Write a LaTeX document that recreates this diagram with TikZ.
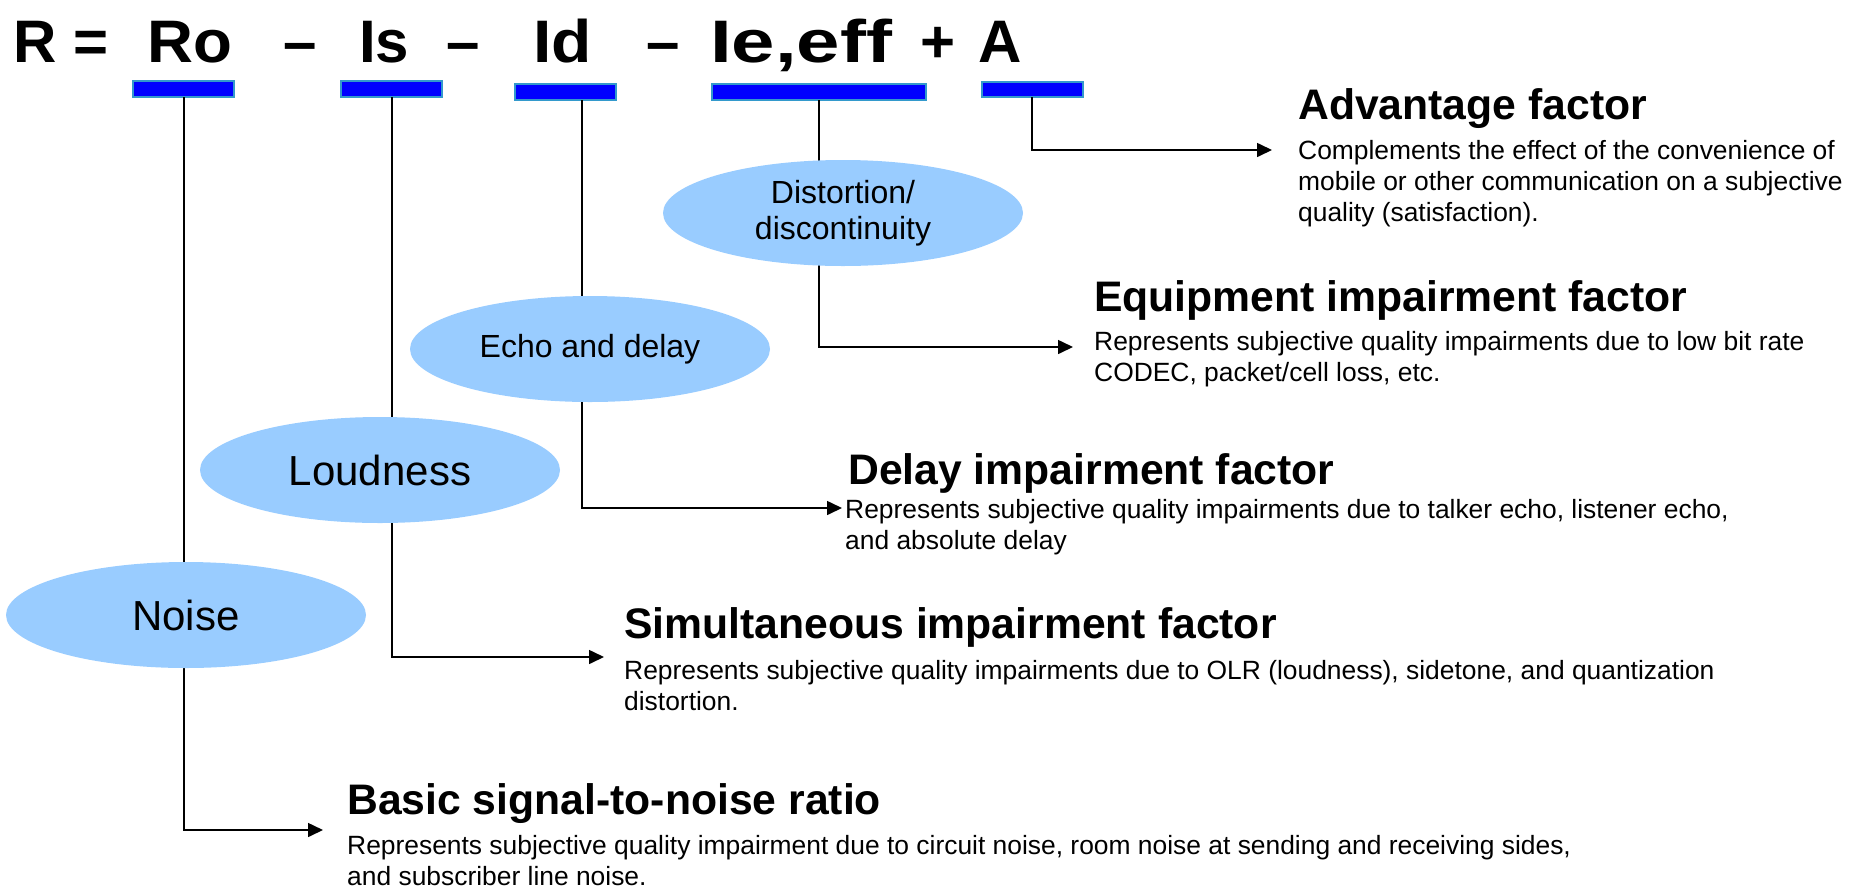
\documentclass[tikz,border=0pt]{standalone}
\usepackage{fontspec}
\usepackage{graphicx}
\setmainfont{Liberation Sans}
\usetikzlibrary{shapes.geometric,arrows.meta}
\definecolor{barblue}{RGB}{0,0,255}
\definecolor{baredge}{RGB}{51,153,204}
\definecolor{ellfill}{RGB}{153,204,255}
\begin{document}
\begin{tikzpicture}[x=1pt,y=-1pt,
  titletext/.style={inner sep=0pt,font=\fontsize{60}{70}\selectfont\bfseries},
  bar/.style={draw=baredge,line width=1.5pt,fill=barblue},
  blob/.style={ellipse,fill=ellfill,inner sep=0pt,minimum width=360pt,minimum height=106pt},
  bigtext/.style={font=\fontsize{42}{48}\selectfont},
  midtext/.style={font=\fontsize{32}{36}\selectfont,align=center},
  heading/.style={inner sep=0pt,anchor=base west,font=\fontsize{42.7}{48}\selectfont\bfseries},
  body/.style={inner sep=0pt,anchor=base west,font=\fontsize{26.4}{31}\selectfont},
  conn/.style={line width=1.6pt,-{Triangle[length=15pt,width=14pt]}}
]
\useasboundingbox (0,0) rectangle (1864,887);
% title
\node[titletext,anchor=base west] (tR) at (13,62) {R =};
\node[titletext,anchor=base west] (tRo) at (147,62) {\scalebox{1.06}[1]{Ro}};
\node[titletext,anchor=base] (m1) at (300,62) {–};
\node[titletext,anchor=base west] (tIs) at (359,62) {Is};
\node[titletext,anchor=base] (m2) at (463,62) {–};
\node[titletext,anchor=base west] (tId) at (533,62) {\scalebox{1.1}[1]{Id}};
\node[titletext,anchor=base] (m3) at (663,62) {–};
\node[titletext,anchor=base west] (tIe) at (710,62) {\scalebox{1.3}[1]{Ie,eff}};
\node[titletext,anchor=base] (pl) at (938,62) {+};
\node[titletext,anchor=base west] (tA) at (978,62) {A};
% bars
\path[bar] (133,81) rectangle (234,97);
\path[bar] (341,81) rectangle (442,97);
\path[bar] (515,84) rectangle (616,100);
\path[bar] (712,84) rectangle (926,100);
\path[bar] (982,82) rectangle (1083,97);
\coordinate (b1) at (184,97);
\coordinate (b2) at (392,97);
\coordinate (b3) at (582,100);
\coordinate (b4) at (819,100);
\coordinate (b5) at (1032,97);
% arrow tips
\coordinate (t1) at (323,830);
\coordinate (t2) at (604,657);
\coordinate (t3) at (842,508);
\coordinate (t4) at (1073,347);
\coordinate (t5) at (1272,150);
\draw[conn] (b1) |- (t1);
\draw[conn] (b2) |- (t2);
\draw[conn] (b3) |- (t3);
\draw[conn] (b4) |- (t4);
\draw[conn] (b5) |- (t5);
% ellipses
\node[blob,bigtext] (noise) at (186,615) {Noise};
\node[blob,bigtext] (loud) at (380,470) {Loudness};
\node[blob,midtext] (echo) at (590,349) {Echo and delay};
\node[blob,midtext] (dist) at (843,213) {Distortion/\\discontinuity};
% texts
\node[heading] (hA) at (1298,119) {Advantage factor};
\node[body] (dA) at (1298,159) {\vtop{\hbox{Complements the effect of the convenience of}\hbox{mobile or other communication on a subjective}\hbox{quality (satisfaction).}}};
\node[heading] (hIe) at (1094,311) {Equipment impairment factor};
\node[body] (dIe) at (1094,350) {\vtop{\hbox{Represents subjective quality impairments due to low bit rate}\hbox{CODEC, packet/cell loss, etc.}}};
\node[heading] (hId) at (848,484) {Delay impairment factor};
\node[body] (dId) at (845,518) {\vtop{\hbox{Represents subjective quality impairments due to talker echo, listener echo,}\hbox{and absolute delay}}};
\node[heading] (hIs) at (624,638) {Simultaneous impairment factor};
\node[body] (dIs) at (624,679) {\vtop{\hbox{Represents subjective quality impairments due to OLR (loudness), sidetone, and quantization}\hbox{distortion.}}};
\node[heading] (hRo) at (347,814) {Basic signal-to-noise ratio};
\node[body] (dRo) at (347,854) {\vtop{\hbox{Represents subjective quality impairment due to circuit noise, room noise at sending and receiving sides,}\hbox{and subscriber line noise.}}};
\end{tikzpicture}
\end{document}
